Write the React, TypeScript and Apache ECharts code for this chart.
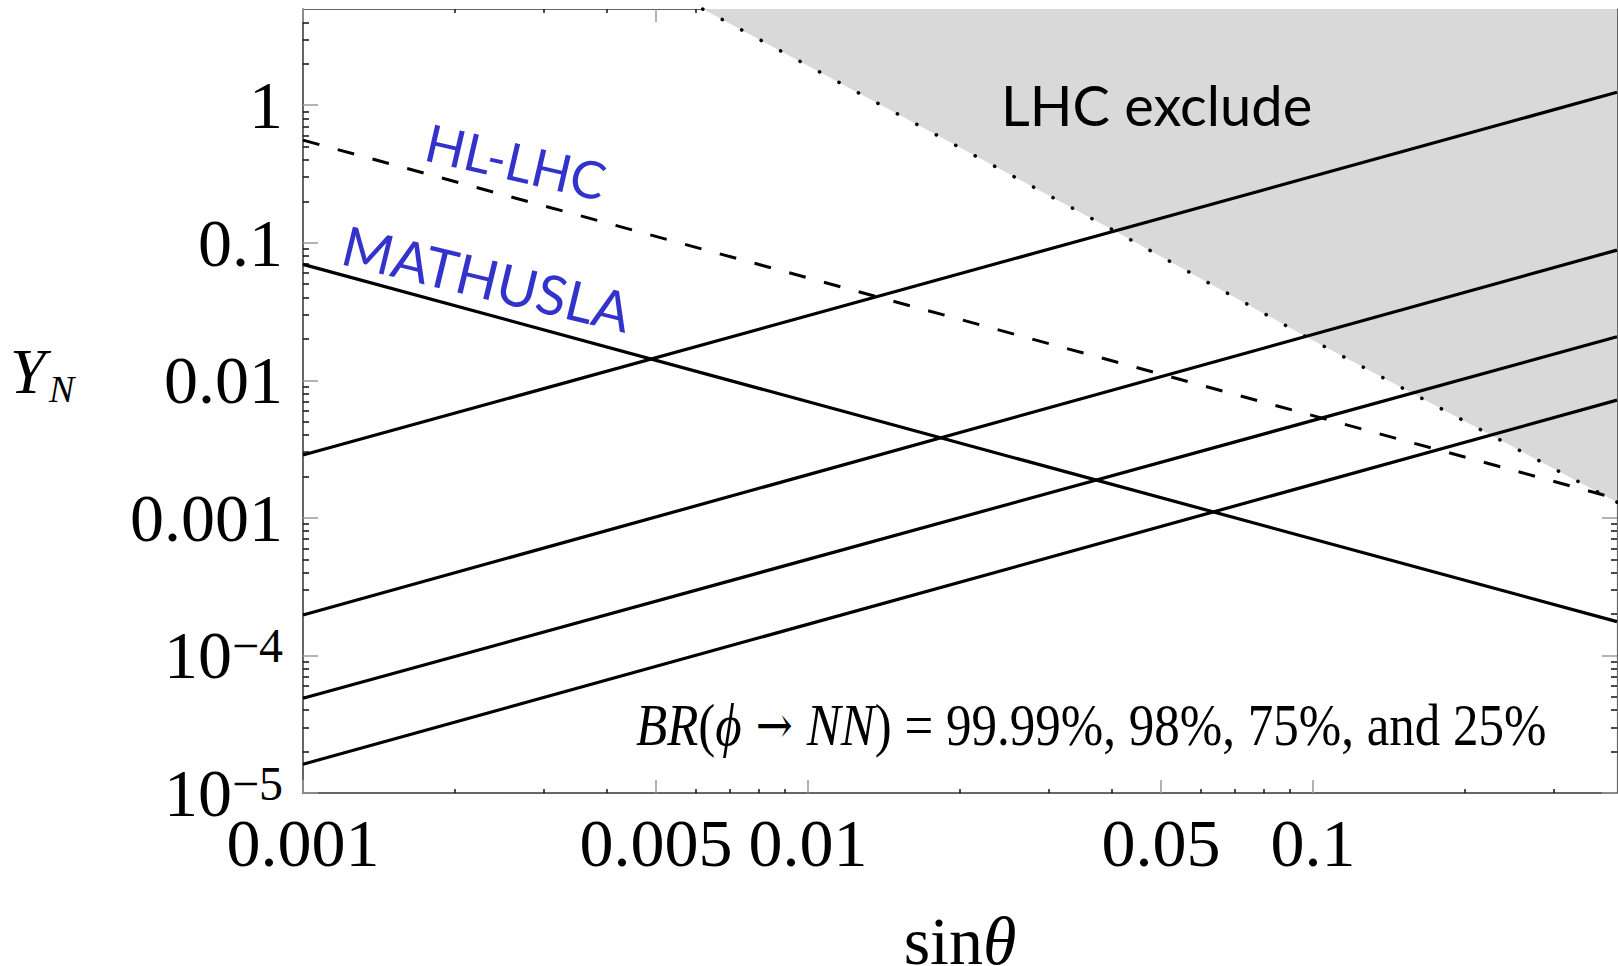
import React, { useEffect, useRef } from 'react';
import * as echarts from 'echarts';

// Axis ranges (log-log)
const X_MIN = 0.001;
const X_MAX = 0.4;
const Y_MIN = 1e-5;
const Y_MAX = 5;

// Lines are straight in log-log space, so the two end points define each one
const sinTheta = [0.001, 0.4];
const yBR9999 = [2.86e-3, 1.24];
const yBR98 = [1.97e-4, 0.0884];
const yBR75 = [4.88e-5, 0.0207];
const yBR25 = [1.62e-5, 7.18e-3];
const yMathusla = [0.0696, 1.76e-4];
const yHLLHC = [0.557, 1.38e-3];

// Edge of the LHC excluded region
const lhcEdgeX = [0.00619, 0.0408, 0.0984, 0.4];
const lhcEdgeY = [5, 0.12, 0.0201, 1.3e-3];

// Ticks and tick labels
const xMajorTicks = [0.001, 0.005, 0.01, 0.05, 0.1];
const xMajorLabels = ['0.001', '0.005', '0.01', '0.05', '0.1'];
const xMinorTicks = [
  0.002, 0.003, 0.004, 0.006, 0.007, 0.008, 0.009,
  0.02, 0.03, 0.04, 0.06, 0.07, 0.08, 0.09,
  0.2, 0.3,
];
const yMajorTicks = [1e-5, 1e-4, 1e-3, 0.01, 0.1, 1];
const yMajorLabels = ['{p|10}{s|−5}', '{p|10}{s|−4}', '{p|0.001}', '{p|0.01}', '{p|0.1}', '{p|1}'];
const yMinorTicks = [
  2e-5, 3e-5, 4e-5, 5e-5, 6e-5, 7e-5, 8e-5, 9e-5,
  2e-4, 3e-4, 4e-4, 5e-4, 6e-4, 7e-4, 8e-4, 9e-4,
  2e-3, 3e-3, 4e-3, 5e-3, 6e-3, 7e-3, 8e-3, 9e-3,
  0.02, 0.03, 0.04, 0.05, 0.06, 0.07, 0.08, 0.09,
  0.2, 0.3, 0.4, 0.5, 0.6, 0.7, 0.8, 0.9,
  2, 3, 4,
];

const SERIF = '"Liberation Serif", "Times New Roman", serif';
const SANS = 'Lato, "Open Sans", sans-serif';
const BLUE = '#3333cc';

function nearestIndex(v: number, list: number[]) {
  let best = 0;
  let bestD = Infinity;
  list.forEach((t, i) => {
    const d = Math.abs(Math.log10(v) - Math.log10(t));
    if (d < bestD) {
      bestD = d;
      best = i;
    }
  });
  return best;
}

function pairs(xs: number[], ys: number[]) {
  return xs.map((x, i) => [x, ys[i]]);
}

const deg = (d: number) => (d * Math.PI) / 180;

function buildOption() {
  const frame = { show: true, lineStyle: { color: '#333', width: 1.5 } };
  const frameLight = { show: true, lineStyle: { color: '#666', width: 1.2 } };
  const majorTickStyle = { color: '#9a9a9a', width: 1.5 };
  const minorTickStyle = { color: '#111', width: 1.5 };

  const xBase = { type: 'log', logBase: 10, min: X_MIN, max: X_MAX, splitLine: { show: false } };
  const yBase = { type: 'log', logBase: 10, min: Y_MIN, max: Y_MAX, splitLine: { show: false } };

  const xAxis = [
    {
      ...xBase,
      position: 'bottom',
      axisLine: frame,
      axisTick: { show: true, inside: true, length: 13, customValues: xMajorTicks, lineStyle: majorTickStyle },
      axisLabel: {
        show: true,
        customValues: xMajorTicks,
        margin: 16,
        color: '#000',
        fontFamily: SERIF,
        fontSize: 68,
        hideOverlap: false,
        formatter: (v: number) => xMajorLabels[nearestIndex(v, xMajorTicks)],
      },
      name: '{r|sin}{i|θ}',
      nameLocation: 'middle',
      nameGap: 114,
      nameTextStyle: {
        color: '#000',
        rich: {
          r: { fontFamily: SERIF, fontSize: 68, lineHeight: 68, color: '#000' },
          i: { fontFamily: SERIF, fontSize: 68, lineHeight: 68, fontStyle: 'italic', color: '#000' },
        },
      },
    },
    {
      ...xBase,
      position: 'bottom',
      axisLine: { show: false },
      axisTick: { show: true, inside: true, length: 4, customValues: xMinorTicks, lineStyle: minorTickStyle },
      axisLabel: { show: false },
    },
    {
      ...xBase,
      position: 'top',
      axisLine: frameLight,
      axisTick: { show: true, inside: true, length: 13, customValues: xMajorTicks, lineStyle: majorTickStyle },
      axisLabel: { show: false },
    },
    {
      ...xBase,
      position: 'top',
      axisLine: { show: false },
      axisTick: { show: true, inside: true, length: 4, customValues: xMinorTicks, lineStyle: minorTickStyle },
      axisLabel: { show: false },
    },
  ];

  const yAxis = [
    {
      ...yBase,
      position: 'left',
      axisLine: frame,
      axisTick: { show: true, inside: true, length: 15, customValues: yMajorTicks, lineStyle: majorTickStyle },
      axisLabel: {
        show: true,
        customValues: yMajorTicks,
        margin: 20,
        color: '#000',
        hideOverlap: false,
        formatter: (v: number) => yMajorLabels[nearestIndex(v, yMajorTicks)],
        rich: {
          p: { fontFamily: SERIF, fontSize: 68, lineHeight: 68, color: '#000' },
          s: { fontFamily: SERIF, fontSize: 48, lineHeight: 34, verticalAlign: 'top', color: '#000' },
        },
      },
    },
    {
      ...yBase,
      position: 'left',
      axisLine: { show: false },
      axisTick: { show: true, inside: true, length: 6, customValues: yMinorTicks, lineStyle: minorTickStyle },
      axisLabel: { show: false },
    },
    {
      ...yBase,
      position: 'right',
      axisLine: frameLight,
      axisTick: { show: true, inside: true, length: 15, customValues: yMajorTicks, lineStyle: majorTickStyle },
      axisLabel: { show: false },
    },
    {
      ...yBase,
      position: 'right',
      axisLine: { show: false },
      axisTick: { show: true, inside: true, length: 6, customValues: yMinorTicks, lineStyle: minorTickStyle },
      axisLabel: { show: false },
    },
  ];

  const solid = { color: '#000', width: 3.2, type: 'solid' };
  const lineSeries = (name: string, ys: number[], lineStyle: any) => ({
    name,
    type: 'line',
    xAxisIndex: 0,
    yAxisIndex: 0,
    data: pairs(sinTheta, ys),
    symbol: 'none',
    silent: true,
    lineStyle,
    z: 3,
  });

  const series = [
    {
      name: 'LHC exclude',
      type: 'line',
      xAxisIndex: 0,
      yAxisIndex: 0,
      data: pairs(lhcEdgeX, lhcEdgeY),
      symbol: 'none',
      silent: true,
      lineStyle: { color: '#000', width: 3.6, type: [0.1, 22], cap: 'round' },
      areaStyle: { color: '#d9d9d9', opacity: 1, origin: 'end' },
      z: 2,
    },
    lineSeries('BR 99.99%', yBR9999, solid),
    lineSeries('BR 98%', yBR98, solid),
    lineSeries('BR 75%', yBR75, solid),
    lineSeries('BR 25%', yBR25, solid),
    lineSeries('MATHUSLA', yMathusla, solid),
    lineSeries('HL-LHC', yHLLHC, { color: '#000', width: 3, type: [17, 19] }),
  ];

  const graphic = [
    {
      type: 'text',
      x: 1001,
      y: 104,
      z: 100,
      style: {
        text: 'LHC exclude',
        fontFamily: SANS,
        fontSize: 56,
        fill: '#000',
        align: 'left',
        textAlign: 'left',
        verticalAlign: 'middle',
        textVerticalAlign: 'middle',
      },
    },
    {
      type: 'text',
      x: 516,
      y: 161,
      rotation: -deg(13),
      z: 100,
      style: {
        text: 'HL-LHC',
        fontFamily: SANS,
        fontSize: 52,
        fill: BLUE,
        align: 'center',
        textAlign: 'center',
        verticalAlign: 'middle',
        textVerticalAlign: 'middle',
      },
    },
    {
      type: 'text',
      x: 487,
      y: 278,
      rotation: -deg(13.6),
      z: 100,
      style: {
        text: 'MATHUSLA',
        fontFamily: SANS,
        fontSize: 55,
        fill: BLUE,
        align: 'center',
        textAlign: 'center',
        verticalAlign: 'middle',
        textVerticalAlign: 'middle',
      },
    },
    {
      type: 'text',
      x: 636,
      y: 725,
      scaleX: 0.85,
      z: 100,
      style: {
        text: '{i|BR}{n|(}{i|ϕ}{a| → }{i|NN}{n|) = 99.99%, 98%, 75%, and 25%}',
        align: 'left',
        textAlign: 'left',
        verticalAlign: 'middle',
        textVerticalAlign: 'middle',
        rich: {
          i: { fontFamily: SERIF, fontSize: 60, fontStyle: 'italic', fill: '#000', color: '#000' },
          n: { fontFamily: SERIF, fontSize: 60, fill: '#000', color: '#000' },
          a: { fontFamily: '"DejaVu Serif", serif', fontSize: 52, fill: '#000', color: '#000' },
        },
      },
    },
    {
      type: 'text',
      x: 10,
      y: 371,
      z: 100,
      style: {
        text: 'Y',
        fontFamily: SERIF,
        fontSize: 64,
        fontStyle: 'italic',
        fill: '#000',
        align: 'left',
        textAlign: 'left',
        verticalAlign: 'middle',
        textVerticalAlign: 'middle',
      },
    },
    {
      type: 'text',
      x: 49,
      y: 389,
      z: 100,
      style: {
        text: 'N',
        fontFamily: SERIF,
        fontSize: 38,
        fontStyle: 'italic',
        fill: '#000',
        align: 'left',
        textAlign: 'left',
        verticalAlign: 'middle',
        textVerticalAlign: 'middle',
      },
    },
  ];

  return {
    animation: false,
    backgroundColor: '#fff',
    grid: { left: 303, right: 1, top: 9, bottom: 173, containLabel: false, outerBoundsMode: 'none' },
    xAxis,
    yAxis,
    series,
    graphic,
  };
}

export default function App() {
  const ref = useRef<HTMLDivElement>(null);

  useEffect(() => {
    document.body.style.margin = '0';
    if (!ref.current) return;
    const chart = echarts.init(ref.current, null, { renderer: 'svg' });
    chart.setOption(buildOption() as any);
    return () => chart.dispose();
  }, []);

  return <div ref={ref} style={{ width: 1618, height: 966 }} />;
}
